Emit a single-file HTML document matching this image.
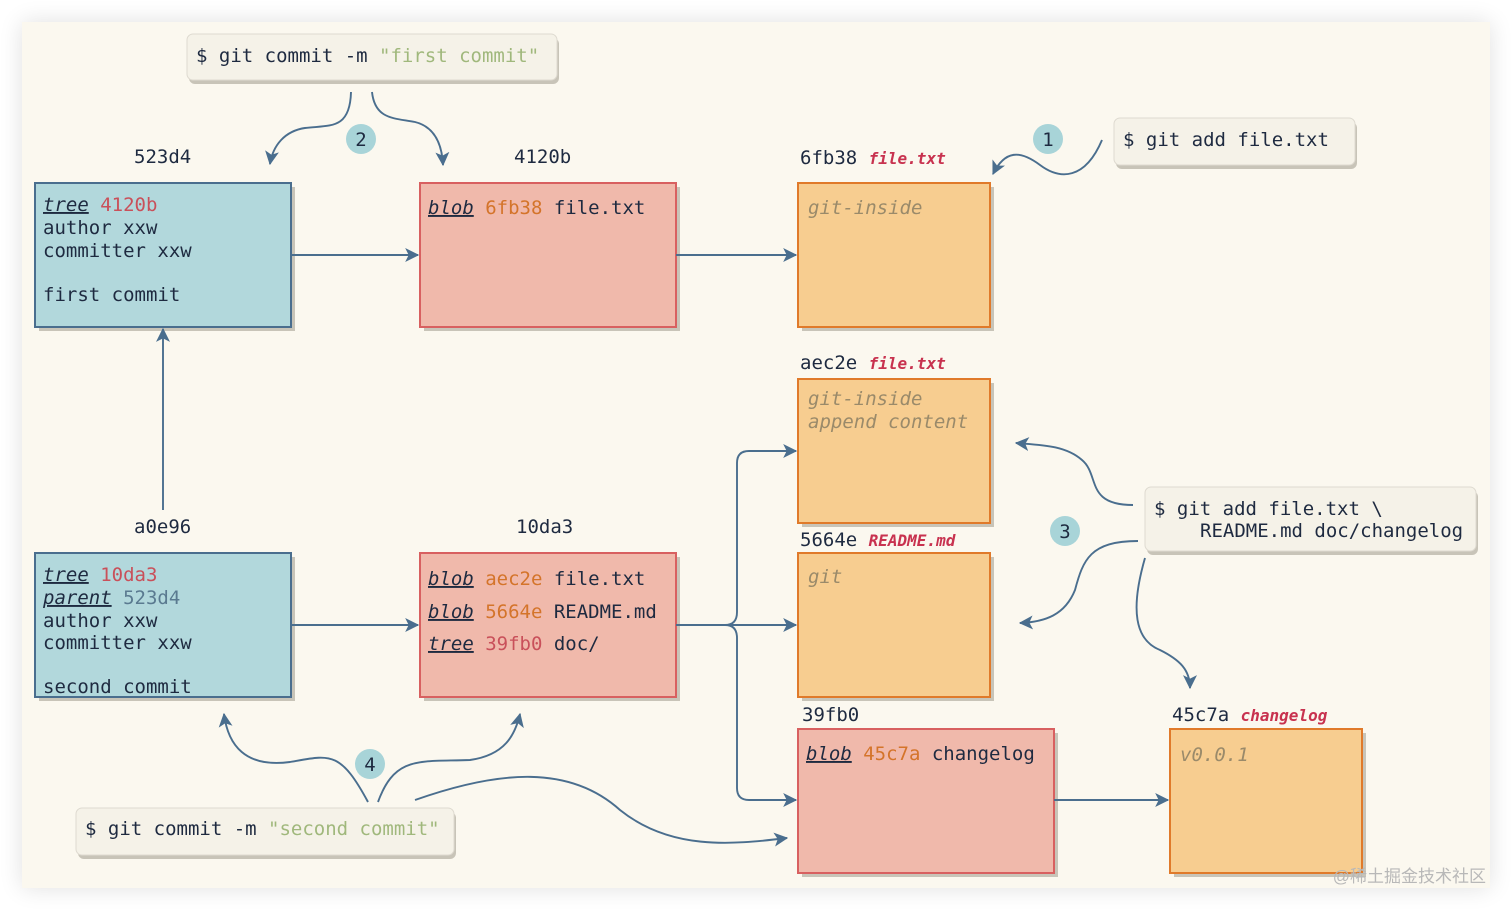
<!DOCTYPE html>
<html><head><meta charset="utf-8"><style>
html,body{margin:0;padding:0;background:#fff;}
svg{display:block;}
text{font-family:"DejaVu Sans Mono","Liberation Mono",monospace;font-size:19px;fill:#1e2a40;white-space:pre;}
.r{fill:#c9505a}.o{fill:#d4742a}.b{fill:#5a7a90}.g{fill:#9a8a6a;font-style:italic}
.u{text-decoration:underline;font-style:italic}
.fn{font-size:16px;font-weight:bold;font-style:italic;fill:#c8324f}
.s{fill:#a0b87c}
.c{stroke:#4a6e8e;stroke-width:1.9;fill:none}
</style></head><body>
<svg width="1512" height="910" viewBox="0 0 1512 910" xmlns="http://www.w3.org/2000/svg">
<defs>
<marker id="a" viewBox="0 0 12 12" refX="11" refY="6" markerWidth="14" markerHeight="14" markerUnits="userSpaceOnUse" orient="auto">
<path d="M0,0 L12,6 L0,12 L3,6 z" fill="#4a6e8e"/></marker>
<filter id="sh" x="-10%" y="-10%" width="130%" height="130%"><feGaussianBlur stdDeviation="12"/></filter>
</defs>
<rect x="22" y="22" width="1468" height="866" fill="#000" opacity="0.12" filter="url(#sh)"/>
<rect x="22" y="22" width="1468" height="866" fill="#fbf8ef"/>

<g fill="#c8c4b8">
<rect x="39" y="187" width="256" height="144"/><rect x="424" y="187" width="256" height="144"/>
<rect x="802" y="187" width="192" height="144"/><rect x="802" y="383" width="192" height="144"/>
<rect x="802" y="557" width="192" height="144"/><rect x="39" y="557" width="256" height="144"/>
<rect x="424" y="557" width="256" height="144"/><rect x="802" y="733" width="256" height="144"/>
<rect x="1174" y="733" width="192" height="144"/>
<rect x="189" y="38" width="370" height="46" rx="6"/><rect x="1116" y="122" width="241" height="47" rx="6"/>
<rect x="1147" y="491" width="331" height="64" rx="6"/><rect x="78" y="812" width="378" height="47" rx="6"/>
</g>
<g stroke-width="2">
<rect x="35" y="183" width="256" height="144" fill="#b2d8dc" stroke="#4a6e8e"/>
<rect x="420" y="183" width="256" height="144" fill="#f0b9ab" stroke="#d86060"/>
<rect x="798" y="183" width="192" height="144" fill="#f7cd90" stroke="#e07a2a"/>
<rect x="798" y="379" width="192" height="144" fill="#f7cd90" stroke="#e07a2a"/>
<rect x="798" y="553" width="192" height="144" fill="#f7cd90" stroke="#e07a2a"/>
<rect x="35" y="553" width="256" height="144" fill="#b2d8dc" stroke="#4a6e8e"/>
<rect x="420" y="553" width="256" height="144" fill="#f0b9ab" stroke="#d86060"/>
<rect x="798" y="729" width="256" height="144" fill="#f0b9ab" stroke="#d86060"/>
<rect x="1170" y="729" width="192" height="144" fill="#f7cd90" stroke="#e07a2a"/>
</g>
<g fill="#f5f2e8" stroke="#dedad0" stroke-width="1">
<rect x="187" y="34" width="370" height="46" rx="6"/><rect x="1114" y="118" width="241" height="47" rx="6"/>
<rect x="1145" y="487" width="331" height="64" rx="6"/><rect x="76" y="808" width="378" height="47" rx="6"/>
</g>
<g fill="#a8d4d8">
<circle cx="361" cy="139" r="15"/><circle cx="1048" cy="139" r="15"/><circle cx="1065" cy="531" r="15"/><circle cx="370" cy="764" r="15"/>
</g>
<g text-anchor="middle">
<text x="361" y="146">2</text><text x="1048" y="146">1</text><text x="1065" y="538">3</text><text x="370" y="771">4</text>
</g>

<path class="c" d="M291,255 H418" marker-end="url(#a)"/>
<path class="c" d="M676,255 H796" marker-end="url(#a)"/>
<path class="c" d="M163,510 V329" marker-end="url(#a)"/>
<path class="c" d="M291,625 H418" marker-end="url(#a)"/>
<path class="c" d="M676,625 H796" marker-end="url(#a)"/>
<path class="c" d="M725,625 Q737,625 737,612 V463 Q737,451 749,451 H796" marker-end="url(#a)"/>
<path class="c" d="M725,625 Q737,625 737,638 V788 Q737,800 749,800 H796" marker-end="url(#a)"/>
<path class="c" d="M1054,800 H1168" marker-end="url(#a)"/>
<path class="c" d="M351,92 C350,130 330,125 305,128 C285,131 273,145 270,164" marker-end="url(#a)"/>
<path class="c" d="M372,92 C375,120 395,118 415,122 C435,127 442,145 443,165" marker-end="url(#a)"/>
<path class="c" d="M1102,140 C1085,180 1060,180 1040,165 C1020,150 1005,150 993,174" marker-end="url(#a)"/>
<path class="c" d="M1133,505 C1085,505 1100,475 1082,460 C1065,445 1040,445 1016,443" marker-end="url(#a)"/>
<path class="c" d="M1138,541 C1090,541 1083,560 1075,590 C1065,615 1045,622 1020,623" marker-end="url(#a)"/>
<path class="c" d="M1145,558 C1130,610 1135,640 1160,650 C1180,660 1190,670 1190,688" marker-end="url(#a)"/>
<path class="c" d="M368,802 C340,750 330,755 290,762 C245,768 228,745 224,714" marker-end="url(#a)"/>
<path class="c" d="M378,802 C395,755 420,762 470,760 C505,755 515,735 520,714" marker-end="url(#a)"/>
<path class="c" d="M415,800 C500,770 570,765 620,810 C670,850 730,845 787,838" marker-end="url(#a)"/>

<text x="134" y="163">523d4</text><text x="514" y="163">4120b</text>
<text x="800" y="164">6fb38 <tspan class="fn">file.txt</tspan></text>
<text x="800" y="369">aec2e <tspan class="fn">file.txt</tspan></text>
<text x="800" y="546">5664e <tspan class="fn">README.md</tspan></text>
<text x="134" y="533">a0e96</text><text x="516" y="533">10da3</text>
<text x="802" y="721">39fb0</text>
<text x="1172" y="721">45c7a <tspan class="fn">changelog</tspan></text>

<text x="43" y="211"><tspan class="u">tree</tspan> <tspan class="r">4120b</tspan></text>
<text x="43" y="234">author xxw</text><text x="43" y="257">committer xxw</text><text x="43" y="301">first commit</text>
<text x="428" y="214"><tspan class="u">blob</tspan> <tspan class="o">6fb38</tspan> file.txt</text>
<text x="808" y="214" class="g">git-inside</text>
<text x="808" y="405" class="g">git-inside</text><text x="808" y="428" class="g">append content</text>
<text x="808" y="583" class="g">git</text>
<text x="1180" y="761" class="g">v0.0.1</text>
<text x="43" y="581"><tspan class="u">tree</tspan> <tspan class="r">10da3</tspan></text>
<text x="43" y="604"><tspan class="u">parent</tspan> <tspan class="b">523d4</tspan></text>
<text x="43" y="627">author xxw</text><text x="43" y="649">committer xxw</text><text x="43" y="693">second commit</text>
<text x="428" y="585"><tspan class="u">blob</tspan> <tspan class="o">aec2e</tspan> file.txt</text>
<text x="428" y="618"><tspan class="u">blob</tspan> <tspan class="o">5664e</tspan> README.md</text>
<text x="428" y="650"><tspan class="u">tree</tspan> <tspan class="r">39fb0</tspan> doc/</text>
<text x="806" y="760"><tspan class="u">blob</tspan> <tspan class="o">45c7a</tspan> changelog</text>

<text x="196" y="62">$ git commit -m <tspan class="s">"first commit"</tspan></text>
<text x="1123" y="146">$ git add file.txt</text>
<text x="1154" y="515">$ git add file.txt \</text>
<text x="1200" y="537">README.md doc/changelog</text>
<text x="85" y="835">$ git commit -m <tspan class="s">"second commit"</tspan></text>

<text x="1486" y="882" text-anchor="end" style="font-family:'Liberation Sans','Noto Sans CJK SC',sans-serif;font-size:17px;fill:#b8b8b8">@稀土掘金技术社区</text>
</svg>
</body></html>
